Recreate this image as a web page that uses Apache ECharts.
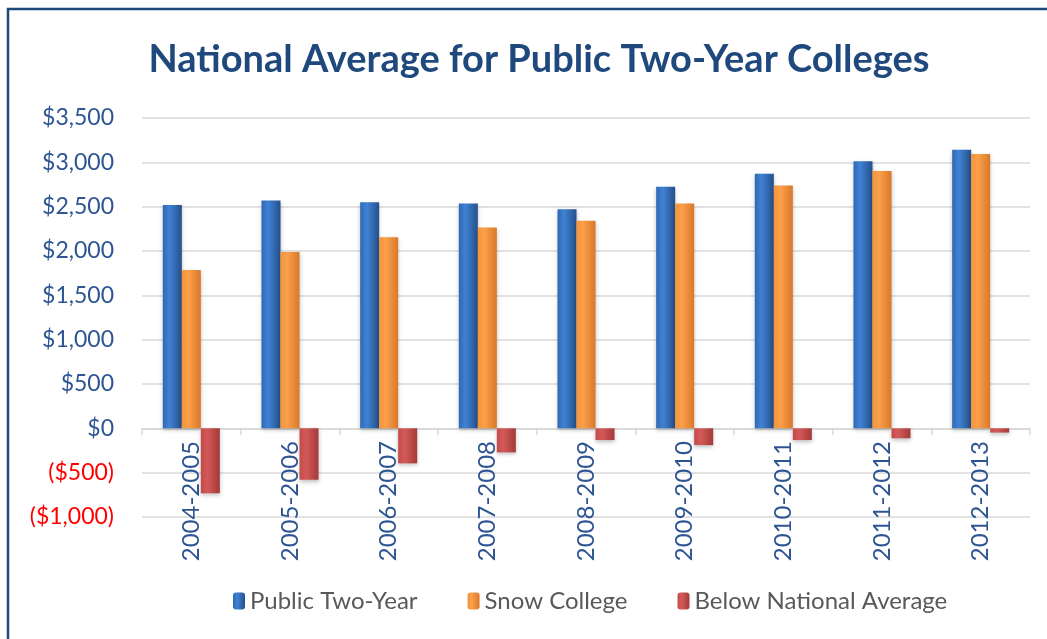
<!DOCTYPE html>
<html>
<head>
<meta charset="utf-8">
<script src="https://cdn.jsdelivr.net/npm/echarts@6/dist/echarts.min.js"></script>
<style>
html,body{margin:0;padding:0;background:#fff;}
#chart{width:1047px;height:639px;}
</style>
</head>
<body>
<div id="chart"></div>
<script>
const categories = ['2004-2005','2005-2006','2006-2007','2007-2008','2008-2009','2009-2010','2010-2011','2011-2012','2012-2013'];
const publicTwoYear = [2520, 2569, 2551, 2535, 2472, 2724, 2870, 3013, 3141];
const snowCollege = [1787, 1990, 2156, 2264, 2340, 2535, 2738, 2901, 3093];
const belowNational = [-733, -579, -395, -271, -132, -189, -132, -112, -48];
const yTicks = { min: -1000, max: 3500, interval: 500 };

function grad(light, mid, dark) {
  return new echarts.graphic.LinearGradient(0, 0, 1, 0, [
    { offset: 0, color: mid },
    { offset: 0.35, color: light },
    { offset: 1, color: dark }
  ]);
}
function money(v) {
  const s = '$' + Math.abs(v).toLocaleString('en-US');
  return v < 0 ? '(' + s + ')' : s;
}
const font = 'Lato, "Open Sans", sans-serif';
const chart = echarts.init(document.getElementById('chart'));
chart.setOption({
  backgroundColor: '#fff',
  animation: false,
  graphic: [{
    type: 'rect', silent: true,
    shape: { x: 8, y: 9, width: 1200, height: 800 },
    style: { fill: 'none', stroke: '#1f497d', lineWidth: 2.5 }
  }],
  title: {
    text: 'National Average for Public Two-Year Colleges',
    left: 534, textAlign: 'center', top: 36,
    textStyle: { fontFamily: font, fontWeight: 'bold', fontSize: 38, color: '#1f497d' }
  },
  legend: {
    bottom: 21, left: 228,
    itemWidth: 12, itemHeight: 17, itemGap: 50,
    textStyle: { fontFamily: font, fontSize: 24, color: '#595959' },
    data: ['Public Two-Year', 'Snow College', 'Below National Average']
  },
  grid: { left: 142, right: 17, top: 118, bottom: 122, containLabel: false },
  xAxis: {
    type: 'category', data: categories,
    axisLine: { onZero: true, lineStyle: { color: '#d9d9d9', width: 1.5 } },
    axisTick: { show: true, length: 7, inside: false, lineStyle: { color: '#d9d9d9', width: 1.5 } },
    axisLabel: { rotate: 90, margin: -76, fontFamily: font, fontSize: 24, color: '#2e5593' }
  },
  yAxis: {
    type: 'value', min: yTicks.min, max: yTicks.max, interval: yTicks.interval,
    axisLine: { show: false }, axisTick: { show: false },
    splitLine: { lineStyle: { color: '#d9d9d9', width: 1.5 } },
    axisLabel: {
      margin: 28, fontFamily: font, fontSize: 23,
      formatter: money,
      color: function (v) { return Number(v) < 0 ? '#ff0000' : '#2e5593'; }
    }
  },
  series: [
    { name: 'Public Two-Year', type: 'bar', data: publicTwoYear, barWidth: 19, barGap: '0%',
      itemStyle: { color: grad('#3f82d4', '#2f68b4', '#254f8a'), shadowColor: 'rgba(0,0,0,0.25)', shadowBlur: 4, shadowOffsetY: 2 } },
    { name: 'Snow College', type: 'bar', data: snowCollege, barWidth: 19, barGap: '0%',
      itemStyle: { color: grad('#fba04a', '#f59439', '#d9782a'), shadowColor: 'rgba(0,0,0,0.25)', shadowBlur: 4, shadowOffsetY: 2 } },
    { name: 'Below National Average', type: 'bar', data: belowNational, barWidth: 19, barGap: '0%',
      itemStyle: { color: grad('#d35a58', '#c44b49', '#a33a38'), shadowColor: 'rgba(0,0,0,0.25)', shadowBlur: 4, shadowOffsetY: 2 } }
  ]
});
</script>
</body>
</html>
